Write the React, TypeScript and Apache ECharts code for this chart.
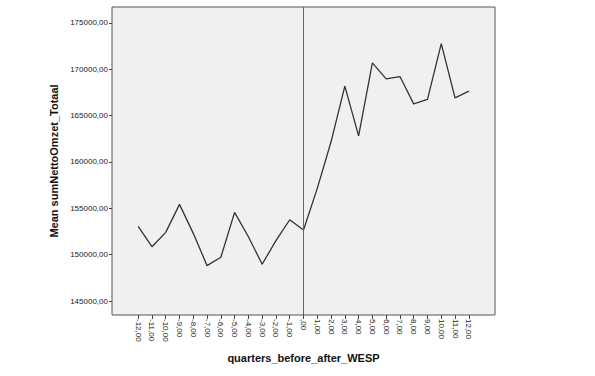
import React, { useEffect, useRef } from "react";
import * as echarts from "echarts";

const quarters: number[] = [-12, -11, -10, -9, -8, -7, -6, -5, -4, -3, -2, -1, 0, 1, 2, 3, 4, 5, 6, 7, 8, 9, 10, 11, 12];
const meanValues: number[] = [
  153060, 150860, 152410, 155430, 152300, 148815, 149720, 154570, 151940, 148970, 151510, 153770,
  152660, 157155, 162180, 168180, 162820, 170690, 168970, 169220, 166270, 166750, 172780, 166920, 167640,
];
const yTicks: number[] = [145000, 150000, 155000, 160000, 165000, 170000, 175000];
const referenceX = 0;

const fmt = (v: number) => {
  const s = Math.abs(v).toFixed(2).replace(".", ",");
  const body = Math.abs(v) < 1 ? s.replace(/^0/, "") : s;
  return (v < 0 ? "-" : "") + body;
};

const FONT = "Arial, 'Liberation Sans', sans-serif";

export default function App() {
  const ref = useRef<HTMLDivElement>(null);
  useEffect(() => {
    if (!ref.current) return;
    const chart = echarts.init(ref.current, undefined, { renderer: "svg" });
    chart.setOption({
      animation: false,
      backgroundColor: "#ffffff",
      grid: {
        left: 112,
        top: 7,
        right: 100,
        bottom: 61,
        show: true,
        backgroundColor: "#f0f0f0",
        borderColor: "#555555",
        borderWidth: 1,
      },
      xAxis: {
        type: "value",
        min: -13.9,
        max: 13.9,
        name: "quarters_before_after_WESP",
        nameLocation: "middle",
        nameGap: 37,
        nameTextStyle: { fontFamily: FONT, fontSize: 11, fontWeight: "bold", color: "#111" },
        axisLine: { show: false, onZero: false },
        splitLine: { show: false },
        axisTick: { show: true, length: 4, lineStyle: { color: "#444" }, customValues: quarters },
        axisLabel: {
          customValues: quarters,
          rotate: -90,
          fontFamily: FONT,
          fontSize: 8,
          color: "#222",
          margin: 4,
          formatter: (v: number) => fmt(v),
        },
      },
      yAxis: {
        type: "value",
        min: 143491,
        max: 176724,
        name: "Mean sumNettoOmzet_Totaal",
        nameLocation: "middle",
        nameGap: 51,
        nameTextStyle: { fontFamily: FONT, fontSize: 11, fontWeight: "bold", color: "#111" },
        axisLine: { show: false, onZero: false },
        splitLine: { show: false },
        axisTick: { show: true, length: 3, lineStyle: { color: "#444" }, customValues: yTicks },
        axisLabel: {
          customValues: yTicks,
          fontFamily: FONT,
          fontSize: 8,
          color: "#222",
          margin: 4,
          formatter: (v: number) => fmt(v),
        },
      },
      series: [
        {
          type: "line",
          data: quarters.map((q, i) => [q, meanValues[i]]),
          symbol: "none",
          lineStyle: { color: "#333333", width: 1.3 },
          markLine: {
            silent: true,
            symbol: "none",
            label: { show: false },
            lineStyle: { color: "#666666", width: 1, type: "solid" },
            data: [{ xAxis: referenceX }],
          },
        },
      ],
    });
    return () => chart.dispose();
  }, []);
  return <div ref={ref} style={{ position: "absolute", left: 0, top: 0, width: 595, height: 376 }} />;
}
